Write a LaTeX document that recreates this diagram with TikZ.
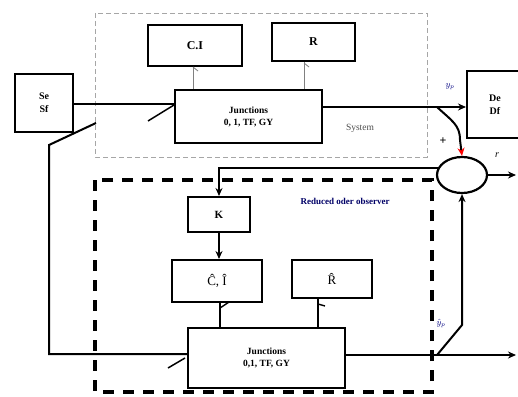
\documentclass[tikz,border=0pt]{standalone}
\usepackage{fontspec}
\setmainfont{Liberation Serif}
\usetikzlibrary{arrows.meta,shapes.geometric}
\begin{document}
\begin{tikzpicture}[x=1pt,y=-1pt,
  blk/.style={draw,line width=2pt,rectangle,inner sep=0pt,align=center,font=\bfseries\fontsize{12}{13}\selectfont},
  jbox/.style={draw,line width=1.8pt,rectangle,inner sep=0pt,align=center,font=\bfseries\fontsize{9.5}{12}\selectfont},
  sig/.style={line width=2pt},
  thin/.style={line width=0.8pt,gray},
  arr/.style={-{Stealth[length=8pt,width=7pt]}}]
\useasboundingbox (0,0) rectangle (518,396);
\clip (0,0) rectangle (518,396);
% system frame
\draw[gray!70,dashed,line width=0.9pt,dash pattern=on 5pt off 3pt] (95,13) rectangle (427,157);
\node[gray!60!black,font=\fontsize{9.5}{10}\selectfont] (systxt) at (360,128) {System};
% observer frame
\draw[line width=3.5pt,dash pattern=on 11pt off 9pt] (95,180) rectangle (432,392);
\node[blue!40!black,font=\bfseries\fontsize{9}{10}\selectfont] (obstxt) at (345,201) {Reduced oder observer};
% blocks
\node[blk,minimum width=58pt,minimum height=58pt,font=\bfseries\fontsize{10}{13}\selectfont] (se) at (44,103) {Se\\Sf};
\node[blk,minimum width=94pt,minimum height=41pt] (ci) at (195,45.5) {C.I};
\node[blk,minimum width=83pt,minimum height=38pt] (r) at (313.5,42) {R};
\node[jbox,minimum width=147pt,minimum height=53pt] (j1) at (248.5,116.5) {Junctions\\0, 1, TF, GY};
\node[blk,minimum width=56pt,minimum height=67pt,font=\bfseries\fontsize{10}{13}\selectfont] (dd) at (495,104.5) {De\\Df};
\node[draw,ellipse,line width=2.2pt,minimum width=50pt,minimum height=36pt,inner sep=0pt] (sum) at (462,175) {};
\node[blk,minimum width=62pt,minimum height=35pt,font=\bfseries\fontsize{11}{13}\selectfont] (k) at (219,214.5) {K};
\node[blk,minimum width=90pt,minimum height=42pt,font=\fontsize{13}{14}\selectfont] (ch) at (217,281) {Ĉ, Î};
\node[blk,minimum width=80pt,minimum height=38pt,font=\fontsize{13}{14}\selectfont] (rh) at (332,279) {R̂};
\node[jbox,minimum width=157pt,minimum height=60pt,line width=2.2pt] (j2) at (266.5,358) {Junctions\\0,1, TF, GY};
% coordinates
\coordinate (b1) at (437,107);
\coordinate (b2) at (437,355);
\coordinate (s1) at (96,123);
\coordinate (s2) at (49,145);
\coordinate (out1) at (516,175);
\coordinate (out2) at (516,355);
% system bonds
\draw[line width=1.5pt] (se.east |- 0,104) -- (j1.west |- 0,104);
\draw[line width=1.5pt] (148,121) -- (174,105);
\draw[thin] (ci.south -| 193,0) -- (j1.north -| 193,0);
\draw[thin] (193,67) -- (198,71);
\draw[thin] (r.south -| 304,0) -- (j1.north -| 304,0);
\draw[thin] (304,63) -- (309,67);
\draw[sig,arr] (j1.east |- b1) -- (dd.west |- b1);
\draw[sig,-{Stealth[length=8pt,width=7pt,red]}] (b1) .. controls (452,121) and (460,125) .. (460,140) -- (sum.north);
\node[font=\bfseries\fontsize{12}{12}\selectfont] (plus) at (443,141) {+};
\node[font=\itshape\fontsize{9}{10}\selectfont,blue!50!black] (yp) at (450,87) {$y_p$};
\draw[sig,arr] (sum.east) -- (out1);
\node[font=\itshape\fontsize{10}{10}\selectfont] (rl) at (497,155) {r};
% feedback
\draw[sig,arr] (sum.165) -- (sum.165 -| k.north) -- (k.north);
\draw[sig,arr] (k.south) -- (k.south |- ch.north);
\draw[sig] (ch.south -| 220,0) -- (j2.north -| 220,0);
\draw[line width=1.4pt] (220,308) -- (229,302);
\draw[sig] (rh.south -| 318,0) -- (j2.north -| 318,0);
\draw[line width=1.4pt] (318,304) -- (325,306);
% input to observer
\draw[sig] (s1) -- (s2) -- (s2 |- 0,354) -- (j2.west |- 0,354);
\draw[line width=1.5pt] (168,368) -- (185,358);
% observer output
\draw[sig,arr] (j2.east |- b2) -- (out2);
\draw[sig,arr] (b2) -- (462,325) -- (sum.south);
\node[font=\itshape\fontsize{9}{10}\selectfont,blue!50!black] (yh) at (441,323) {$\hat{y}_p$};
\end{tikzpicture}
\end{document}
